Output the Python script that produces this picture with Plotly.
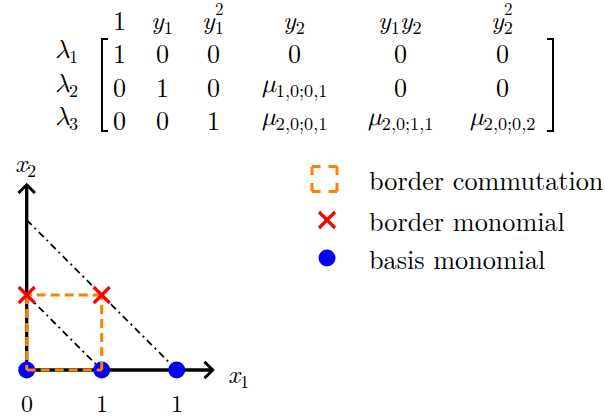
import plotly.graph_objects as go

# ---------------- data ----------------
GK = "<span style=\"font-family:'Latin Modern Math', 'CMU Serif', serif;font-style:italic;font-weight:normal\">{}</span>"
LAM = GK.format("λ")
MU = GK.format("μ")

matrix_cols = ["1", "<i>y</i><sub>1</sub>", "<i>y</i><sub>1</sub>",
               "<i>y</i><sub>2</sub>", "<i>y</i><sub>1</sub><i>y</i><sub>2</sub>",
               "<i>y</i><sub>2</sub>"]
matrix_col_sup = ["", "", "2", "", "", "2"]
matrix_rows = [LAM + "<sub>1</sub>", LAM + "<sub>2</sub>", LAM + "<sub>3</sub>"]
matrix_vals = [
    ["1", "0", "0", "0", "0", "0"],
    ["0", "1", "0", MU + "<sub>1,0;0,1</sub>", "0", "0"],
    ["0", "0", "1", MU + "<sub>2,0;0,1</sub>", MU + "<sub>2,0;1,1</sub>", MU + "<sub>2,0;0,2</sub>"],
]

basis_x = [0, 1, 2]
basis_y = [0, 0, 0]
border_x = [0, 1]
border_y = [1, 1]
comm_x = [0, 1, 1, 0, 0]
comm_y = [0, 0, 1, 1, 0]
diag_lines = [([0, 1], [1, 0]), ([0, 2], [2, 0])]
tick_vals = [0, 1, 2]
tick_text = ["0", "1", "1"]
axis_len_x = 2.48
axis_len_y = 2.47
legend_labels = ["border commutation", "border monomial", "basis monomial"]

# ---------------- layout helpers ----------------
W, H = 605, 417
OX, OY, U = 26.7, 370.0, 75.0   # origin (px) and px per unit
XR = [-OX / U, (W - OX) / U]
YR = [(OY - H) / U, OY / U]
FONT = ("Latin Modern Roman, CMU Serif, Noto Serif, Liberation Serif, "
        "DejaVu Serif, Tinos, FreeSerif, serif")

def px(x):   # pixel -> paper
    return x / W

def py(y):
    return 1 - y / H

def dx(x):   # pixel -> data
    return (x - OX) / U

def dy(y):
    return (OY - y) / U

fig = go.Figure()

# axes with chevron arrow heads
ah = 0.11
fig.add_trace(go.Scatter(x=[0, axis_len_x], y=[0, 0], mode="lines",
                         line=dict(color="black", width=3.3), hoverinfo="skip"))
fig.add_trace(go.Scatter(x=[0, 0], y=[0, axis_len_y], mode="lines",
                         line=dict(color="black", width=3.3), hoverinfo="skip"))
fig.add_trace(go.Scatter(x=[axis_len_x - ah, axis_len_x, axis_len_x - ah],
                         y=[ah, 0, -ah], mode="lines",
                         line=dict(color="black", width=3), hoverinfo="skip"))
fig.add_trace(go.Scatter(x=[-ah, 0, ah],
                         y=[axis_len_y - ah, axis_len_y, axis_len_y - ah], mode="lines",
                         line=dict(color="black", width=3), hoverinfo="skip"))

# dash-dot diagonals
for lx_, ly_ in diag_lines:
    fig.add_trace(go.Scatter(x=lx_, y=ly_, mode="lines",
                             line=dict(color="black", width=1.8, dash="7px,4px,2px,4px"),
                             hoverinfo="skip"))

# basis monomials
fig.add_trace(go.Scatter(x=basis_x, y=basis_y, mode="markers",
                         marker=dict(color="#0000ff", size=17, line=dict(width=0)),
                         hoverinfo="skip"))

# border commutation square
sx, sy = [], []
for i in range(len(comm_x) - 1):
    sx += [comm_x[i], comm_x[i + 1], None]
    sy += [comm_y[i], comm_y[i + 1], None]
fig.add_trace(go.Scatter(x=sx, y=sy, mode="lines", connectgaps=False,
                         line=dict(color="#ff8000", width=3, dash="9px,5px"),
                         hoverinfo="skip"))

# border monomials
fig.add_trace(go.Scatter(x=border_x, y=border_y, mode="markers",
                         marker=dict(symbol="x-thin", color="#ff0000", size=16,
                                     line=dict(color="#ff0000", width=3.2)),
                         hoverinfo="skip"))

# legend glyphs
lgx = dx(324.5)
lg_rows = [dy(179), dy(220), dy(258)]
hs = 12.5 / U
qx = [lgx - hs, lgx + hs, lgx + hs, lgx - hs, lgx - hs]
qy = [lg_rows[0] + hs, lg_rows[0] + hs, lg_rows[0] - hs, lg_rows[0] - hs, lg_rows[0] + hs]
lx, ly = [], []
for i in range(4):
    lx += [qx[i], qx[i + 1], None]
    ly += [qy[i], qy[i + 1], None]
fig.add_trace(go.Scatter(x=lx, y=ly, mode="lines", connectgaps=False,
                         line=dict(color="#ff8000", width=3, dash="8.5px,8px"),
                         hoverinfo="skip"))
fig.add_trace(go.Scatter(x=[dx(327)], y=[lg_rows[1]], mode="markers",
                         marker=dict(symbol="x-thin", color="#ff0000", size=16,
                                     line=dict(color="#ff0000", width=3.2)),
                         hoverinfo="skip"))
fig.add_trace(go.Scatter(x=[dx(327)], y=[lg_rows[2]], mode="markers",
                         marker=dict(color="#0000ff", size=17, line=dict(width=0)),
                         hoverinfo="skip"))

ann = []
for lab, ry in zip(legend_labels, lg_rows):
    ann.append(dict(x=dx(367), y=ry, xref="x", yref="y", text=lab,
                    showarrow=False, xanchor="left", yanchor="middle",
                    font=dict(family=FONT, size=26.2, color="black")))

# tick labels and axis titles
for tv, tt in zip(tick_vals, tick_text):
    ann.append(dict(x=tv, y=dy(402), xref="x", yref="y", text=tt, showarrow=False,
                    xanchor="center", yanchor="middle",
                    font=dict(family=FONT, size=24, color="black")))
ann.append(dict(x=px(25), y=py(162), xref="paper", yref="paper",
                text="<i>x</i><sub>2</sub>", showarrow=False, xanchor="center",
                yanchor="middle", font=dict(family=FONT, size=26, color="black")))
ann.append(dict(x=px(238), y=py(373), xref="paper", yref="paper",
                text="<i>x</i><sub>1</sub>", showarrow=False, xanchor="center",
                yanchor="middle", font=dict(family=FONT, size=26, color="black")))

# matrix
MS = 26
col_x = [119, 162, 213, 294, 400, 502]
head_y = 19
row_y = [52, 86, 119]
for cx, lab, sup in zip(col_x, matrix_cols, matrix_col_sup):
    ann.append(dict(x=px(cx), y=py(head_y), xref="paper", yref="paper", text=lab,
                    showarrow=False, xanchor="center", yanchor="middle",
                    font=dict(family=FONT, size=MS, color="black")))
    if sup:
        ann.append(dict(x=px(cx + 6), y=py(8), xref="paper", yref="paper", text=sup,
                        showarrow=False, xanchor="center", yanchor="middle",
                        font=dict(family=FONT, size=17, color="black")))
for ry, lab in zip(row_y, matrix_rows):
    ann.append(dict(x=px(66), y=py(ry), xref="paper", yref="paper", text=lab,
                    showarrow=False, xanchor="center", yanchor="middle",
                    font=dict(family=FONT, size=MS, color="black")))
for ry, row in zip(row_y, matrix_vals):
    for cx, v in zip(col_x, row):
        ann.append(dict(x=px(cx), y=py(ry), xref="paper", yref="paper", text=v,
                        showarrow=False, xanchor="center", yanchor="middle",
                        font=dict(family=FONT, size=MS, color="black")))

shapes = [
    dict(type="path", xref="paper", yref="paper",
         path=f"M {px(108)} {py(39)} L {px(102)} {py(39)} L {px(102)} {py(131)} L {px(108)} {py(131)}",
         line=dict(color="black", width=2)),
    dict(type="path", xref="paper", yref="paper",
         path=f"M {px(547)} {py(39)} L {px(553)} {py(39)} L {px(553)} {py(131)} L {px(547)} {py(131)}",
         line=dict(color="black", width=2)),
]

fig.update_layout(
    width=W, height=H, margin=dict(l=0, r=0, t=0, b=0),
    paper_bgcolor="white", plot_bgcolor="white", showlegend=False,
    font=dict(family=FONT),
    xaxis=dict(range=XR, visible=False, fixedrange=True),
    yaxis=dict(range=YR, visible=False, fixedrange=True),
    annotations=ann, shapes=shapes,
)
fig.write_html("out.html", config={"displayModeBar": False, "staticPlot": True},
               post_script="document.body.style.margin='0';")
